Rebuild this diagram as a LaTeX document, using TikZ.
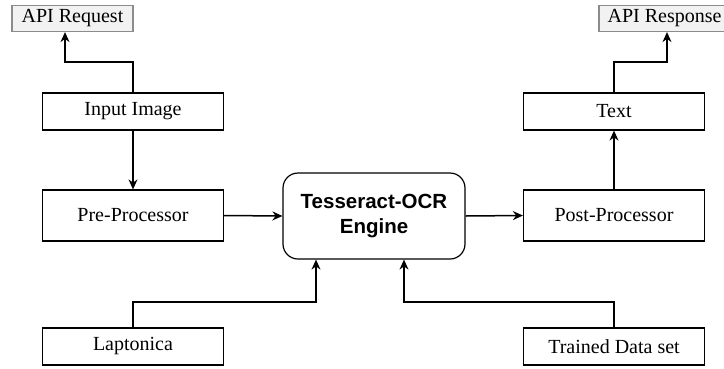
\documentclass[tikz,border=0pt]{standalone}
\usepackage{fontspec}
\setmainfont{Liberation Serif}
\newfontfamily\tessfont{Liberation Sans}
\usetikzlibrary{arrows.meta}
\definecolor{apifill}{HTML}{F2F2F2}
\definecolor{apiline}{HTML}{8C8C8C}
\begin{document}
\begin{tikzpicture}[x=1pt,y=-1pt,
  every node/.style={font=\fontsize{20}{24}\selectfont},
  procbox/.style={draw=black,line width=1.2pt,minimum width=181pt,minimum height=37pt,inner sep=0pt},
  apibox/.style={draw=apiline,fill=apifill,line width=1.2pt,minimum height=26pt,inner sep=0pt},
  arr/.style={draw=black,line width=1.5pt,-{Stealth[length=10pt,width=9pt]}}]
\useasboundingbox (0,0) rectangle (724,368);
\clip (0,0) rectangle (724,368);
\node[apibox,minimum width=121pt] (apireq) at (72.5,18.5) {API Request};
\node[apibox,minimum width=131pt] (apiresp) at (664.5,18.5) {API Response};
\node[procbox] (input) at (133,111.5) {Input Image};
\node[procbox,minimum height=51pt] (pre) at (133,215.5) {Pre-Processor};
\node[draw=black,line width=1.2pt,rounded corners=15pt,minimum width=182pt,minimum height=86pt,inner sep=0pt,align=center,font=\tessfont\bfseries\fontsize{20.5}{25}\selectfont] (tess) at (374,216) {Tesseract-OCR\\Engine};
\node[procbox,minimum height=51pt] (post) at (614,215.5) {Post-Processor};
\node[procbox] (text) at (614,111.5) {Text};
\node[procbox] (lap) at (133,346.5) {Laptonica};
\node[procbox] (trained) at (614,346.5) {Trained Data set};
\coordinate (kreq) at (65,62);
\coordinate (kresp) at (667,62);
\coordinate (klap) at (316,302);
\coordinate (ktrain) at (404,302);
\draw[arr] (input.north) |- (kreq) -- (apireq.south -| kreq);
\draw[arr] (input.south) -- (pre.north);
\draw[arr] (pre.east) -- (tess.west);
\draw[arr] (tess.east) -- (post.west);
\draw[arr] (post.north) -- (text.south);
\draw[arr] (text.north) |- (kresp) -- (apiresp.south -| kresp);
\draw[arr] (lap.north) |- (klap) -- (tess.south -| klap);
\draw[arr] (trained.north) |- (ktrain) -- (tess.south -| ktrain);
\end{tikzpicture}
\end{document}
